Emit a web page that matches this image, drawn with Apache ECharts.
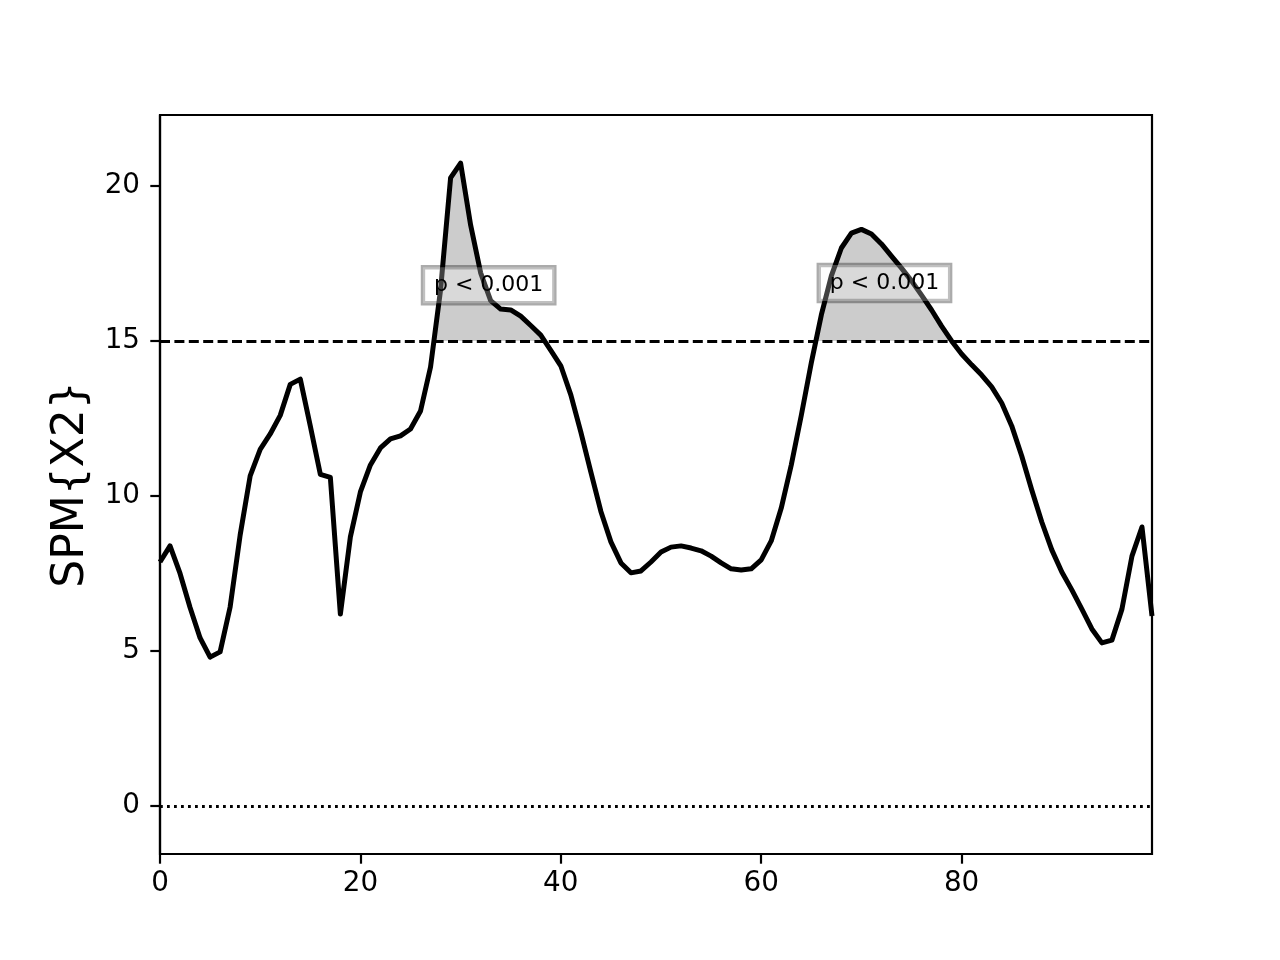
<!DOCTYPE html>
<html>
<head>
<meta charset="utf-8">
<script src="https://cdn.jsdelivr.net/npm/echarts@6/dist/echarts.min.js"></script>
<style>
html,body{margin:0;padding:0;background:#fff;}
#chart{width:1280px;height:960px;}
</style>
</head>
<body>
<div id="chart"></div>
<script>
// ---- data ----
const spmValues = [7.87, 8.39, 7.5, 6.4, 5.42, 4.8, 4.97, 6.42, 8.74, 10.65,
  11.5, 12.0, 12.6, 13.6, 13.77, 12.26, 10.7, 10.6, 6.19, 8.68,
  10.13, 11.0, 11.55, 11.84, 11.94, 12.16, 12.74, 14.16, 16.65, 20.26,
  20.74, 18.74, 17.2, 16.3, 16.03, 16.0, 15.8, 15.5, 15.19, 14.7,
  14.2, 13.26, 12.06, 10.77, 9.5, 8.52, 7.84, 7.52, 7.58, 7.87,
  8.19, 8.35, 8.39, 8.32, 8.23, 8.06, 7.84, 7.65, 7.61, 7.65,
  7.94, 8.55, 9.61, 11.0, 12.6, 14.3, 15.84, 17.1, 18.0, 18.48,
  18.6, 18.45, 18.13, 17.74, 17.35, 16.94, 16.48, 16.0, 15.48, 15.0,
  14.58, 14.23, 13.9, 13.52, 13.0, 12.26, 11.29, 10.19, 9.16, 8.26,
  7.55, 6.97, 6.35, 5.71, 5.26, 5.35, 6.35, 8.06, 9.0, 6.13];
const threshold = 15.0;
const xTicks = [0, 20, 40, 60, 80];
const yTicks = [0, 5, 10, 15, 20];
const xMin = 0, xMax = 99;
const yMin = -1.55, yMax = 22.29;
const annotText = ['p < 0.001', 'p < 0.001'];
const annotX = [32.8, 72.3];
const annotY = [16.8, 16.87];
const yLabel = 'SPM{X2}';

// ---- build ----
const curve = spmValues.map((v, i) => [i, v]);
const annots = annotX.map((x, i) => ({ value: [x, annotY[i]], text: annotText[i] }));

const G = { left: 160, top: 115, width: 992, height: 739 };
const fillH = G.height * (yMax - threshold) / (yMax - yMin);
const FONT = 'DejaVu Sans';

const chart = echarts.init(document.getElementById('chart'), null, { renderer: 'canvas' });
chart.setOption({
  animation: false,
  backgroundColor: '#ffffff',
  textStyle: { fontFamily: FONT },
  grid: [
    { left: G.left, top: G.top, width: G.width, height: G.height, show: true,
      borderColor: '#000', borderWidth: 2.2, backgroundColor: 'transparent' },
    { left: G.left, top: G.top, width: G.width, height: fillH, show: false }
  ],
  xAxis: [
    { type: 'value', gridIndex: 0, min: xMin, max: xMax,
      splitLine: { show: false },
      axisLine: { show: true, onZero: false, lineStyle: { color: '#000', width: 2.2 } },
      axisTick: { show: true, inside: false, length: 9.7, customValues: xTicks, lineStyle: { color: '#000', width: 2.2 } },
      axisLabel: { show: true, customValues: xTicks, margin: 16, color: '#000', fontSize: 27.8, fontFamily: FONT } },
    { type: 'value', gridIndex: 1, min: xMin, max: xMax, show: false }
  ],
  yAxis: [
    { type: 'value', gridIndex: 0, min: yMin, max: yMax,
      name: yLabel, nameLocation: 'middle', nameGap: 63, nameRotate: 90,
      nameTextStyle: { fontSize: 44, color: '#000', fontFamily: FONT },
      splitLine: { show: false },
      axisLine: { show: true, onZero: false, lineStyle: { color: '#000', width: 2.2 } },
      axisTick: { show: true, inside: false, length: 9.7, customValues: yTicks, lineStyle: { color: '#000', width: 2.2 } },
      axisLabel: { show: true, customValues: yTicks, margin: 20, color: '#000', fontSize: 27.8, fontFamily: FONT } },
    { type: 'value', gridIndex: 1, min: threshold, max: yMax, show: false }
  ],
  series: [
    { type: 'line', xAxisIndex: 1, yAxisIndex: 1, data: curve, symbol: 'none', z: 1,
      clip: true, silent: true,
      lineStyle: { width: 0, opacity: 0 },
      areaStyle: { color: '#cccccc', opacity: 1, origin: 'start' } },
    { type: 'line', xAxisIndex: 0, yAxisIndex: 0, data: curve, symbol: 'none', z: 3,
      clip: true, silent: true,
      lineStyle: { color: '#000', width: 5, join: 'round', cap: 'butt' },
      markLine: { silent: true, symbol: ['none', 'none'], label: { show: false },
        data: [
          { yAxis: threshold, lineStyle: { color: '#000', width: 2.8, type: [10, 4.4] } },
          { yAxis: 0, lineStyle: { color: '#000', width: 2.8, type: [2.8, 4.2] } }
        ] } },
    { type: 'scatter', xAxisIndex: 0, yAxisIndex: 0, z: 5, silent: true,
      symbolSize: 0, itemStyle: { color: '#000', opacity: 1 },
      data: annots,
      label: { show: true, position: 'inside', formatter: p => p.data.text,
        fontSize: 22, color: '#000', opacity: 1, fontFamily: FONT,
        backgroundColor: 'rgba(255,255,255,0.25)', borderColor: 'rgba(0,0,0,0.33)', borderWidth: 2.2,
        padding: [7, 11, 7, 11] } }
  ]
});
</script>
</body>
</html>
